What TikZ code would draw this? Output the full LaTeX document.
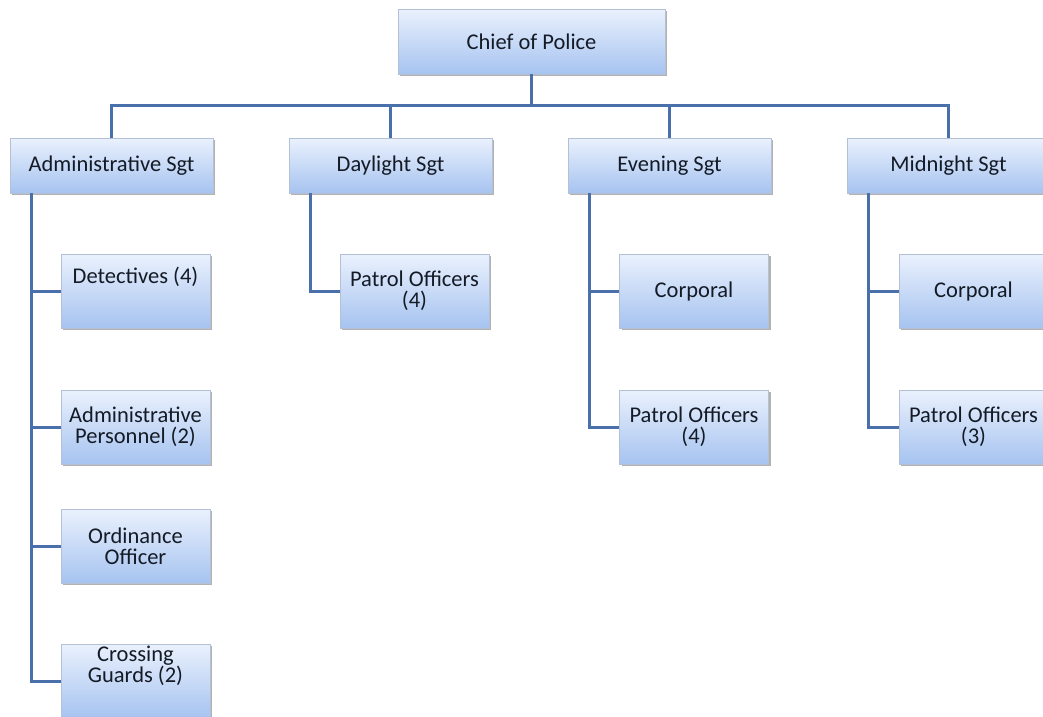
\documentclass[tikz,border=0pt]{standalone}
\usepackage{fontspec}
\setmainfont{Carlito}
\usetikzlibrary{shadows}
\definecolor{boxtop}{HTML}{EAF1FD}
\definecolor{boxbot}{HTML}{A6C3F0}
\definecolor{boxline}{HTML}{B4C0D4}
\definecolor{conn}{HTML}{4A70AC}
\definecolor{txtc}{HTML}{141B26}
\tikzset{
  box/.style={rectangle, draw=boxline, line width=0.8pt, top color=boxtop, bottom color=boxbot,
    drop shadow={shadow xshift=2pt, shadow yshift=-2pt, fill=black, opacity=0.3},
    inner sep=0pt, text=txtc, font=\fontsize{22.5}{21}\selectfont, align=center},
  topbox/.style={box, minimum width=267pt, minimum height=65pt},
  sgtbox/.style={box, minimum width=203pt, minimum height=55pt},
  subbox/.style={box, minimum width=149pt, minimum height=74pt},
  lbl/.style={text=txtc, font=\fontsize{22.5}{21}\selectfont, align=center, inner sep=0pt},
  conline/.style={draw=conn, line width=3pt},
}
\begin{document}
\begin{tikzpicture}[x=1pt,y=-1pt]
\useasboundingbox (0,0) rectangle (1043,716);
\clip (0,0) rectangle (1043,716);
% level 1
\node[topbox] (chief) at (531.5,41.5) {Chief of Police};
% level 2
\node[sgtbox] (adm) at (111.5,165.5) {Administrative Sgt};
\node[sgtbox] (day) at (390.5,165.5) {Daylight Sgt};
\node[sgtbox] (eve) at (669.5,165.5) {Evening Sgt};
\node[sgtbox] (mid) at (948.5,165.5) {Midnight Sgt};
% admin children
\node[subbox] (det) at (135.5,291) {};
\node[lbl] (detl) at (135.5,277) {Detectives (4)};
\node[subbox] (per) at (135.5,427) {Administrative\\Personnel (2)};
\node[subbox] (ord) at (135.5,546) {Ordinance\\Officer};
\node[subbox] (cg) at (135.5,681) {};
\node[lbl] (cgl) at (135.5,666) {Crossing\\Guards (2)};
% daylight children
\node[subbox] (dpo) at (414.5,291) {Patrol Officers\\(4)};
% evening children
\node[subbox] (ecp) at (694,291) {Corporal};
\node[subbox] (epo) at (694,427) {Patrol Officers\\(4)};
% midnight children
\node[subbox] (mcp) at (973.5,291) {Corporal};
\node[subbox] (mpo) at (973.5,427) {Patrol Officers\\(3)};
% connectors
\coordinate (bus) at (0,105);
\coordinate (admtr) at (31,193);
\coordinate (daytr) at (310,193);
\coordinate (evetr) at (589,193);
\coordinate (midtr) at (868,193);
\begin{scope}[conline]
\draw (chief.south) -- (chief.south |- bus);
\draw (adm.north) -- (adm.north |- bus) -- (mid.north |- bus) -- (mid.north);
\draw (day.north) -- (day.north |- bus);
\draw (eve.north) -- (eve.north |- bus);
\draw (admtr) |- (cg.west);
\draw (admtr |- det.west) -- (det.west);
\draw (admtr |- per.west) -- (per.west);
\draw (admtr |- ord.west) -- (ord.west);
\draw (daytr) |- (dpo.west);
\draw (evetr) |- (epo.west);
\draw (evetr |- ecp.west) -- (ecp.west);
\draw (midtr) |- (mpo.west);
\draw (midtr |- mcp.west) -- (mcp.west);
\end{scope}
\end{tikzpicture}
\end{document}
